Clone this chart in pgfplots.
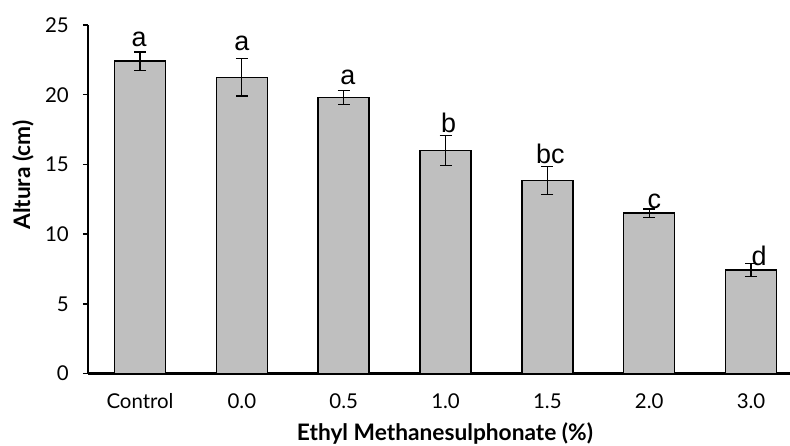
\documentclass[border=0pt]{standalone}
\usepackage{fontspec}
\setmainfont{Lato}
\newfontfamily\letterfont{Liberation Sans}
\usepackage{pgfplots}
\pgfplotsset{compat=1.18}
\definecolor{barfill}{HTML}{BFBFBF}

\begin{document}
\begin{tikzpicture}
\begin{axis}[
    scale only axis,
    width=702bp, height=348.5bp,
    xmin=-0.511, xmax=6.383,
    ymin=0, ymax=25,
    enlargelimits=false,
    clip=false,
    axis x line*=bottom,
    axis y line*=left,
    axis line style={line width=2.5bp, black},
    xtick={0,1,2,3,4,5,6},
    xticklabels={Control,0.0,0.5,1.0,1.5,2.0,3.0},
    xtick style={draw=none},
    ytick={0,5,10,15,20,25},
    ytick style={line width=1.5bp, black},
    tick align=outside,
    major tick length=5bp,
    /pgf/number format/assume math mode=true,
    tick label style={font=\fontsize{20.5}{22}\selectfont},
    xticklabel style={anchor=north, inner sep=0pt, yshift=-15bp},
    yticklabel style={anchor=east, inner sep=0pt, xshift=-14bp},
    label style={font=\bfseries\fontsize{22.8}{26}\selectfont},
    xlabel={Ethyl Methanesulphonate (\%)},
    ylabel={Altura (cm)},
    xlabel style={anchor=center, at={(axis description cs:0.5085,-0.1707)}},
    ylabel style={anchor=center, rotate=0, at={(axis description cs:-0.0926,0.5696)}},
]
\addplot[ybar, bar width=51bp, fill=barfill, draw=black, line width=1.5bp,
    error bars/.cd, y dir=both, y explicit,
    error bar style={line width=1.2bp, black},
    error mark options={rotate=90, mark size=6bp, line width=1.2bp, black}]
    coordinates {
    (0,22.40) +- (0,0.67)
    (1,21.25) +- (0,1.35)
    (2,19.80) +- (0,0.50)
    (3,16.00) +- (0,1.10)
    (4,13.85) +- (0,1.00)
    (5,11.50) +- (0,0.30)
    (6,7.43)  +- (0,0.48)
};
% significance letters (baseline positions)
\addplot[draw=none, mark=none, nodes near coords, point meta=explicit symbolic,
    every node near coord/.append style={anchor=base, inner sep=0pt,
        font=\letterfont\fontsize{27}{29}\selectfont}]
    coordinates {
    (-0.01,23.44) [a]
    (1.00,23.20)  [a]
    (2.04,20.70)  [a]
    (3.03,17.27)  [b]
    (4.03,15.03)  [bc]
    (5.05,11.85)  [c]
    (6.08,7.78)   [d]
};
\coordinate (bl) at (rel axis cs:0,0);
\coordinate (tr) at (rel axis cs:1,1);
\end{axis}
\pgfresetboundingbox
\path[use as bounding box] ([xshift=-88bp,yshift=-72.5bp]bl) rectangle ([yshift=25bp]tr);
\end{tikzpicture}
\end{document}
